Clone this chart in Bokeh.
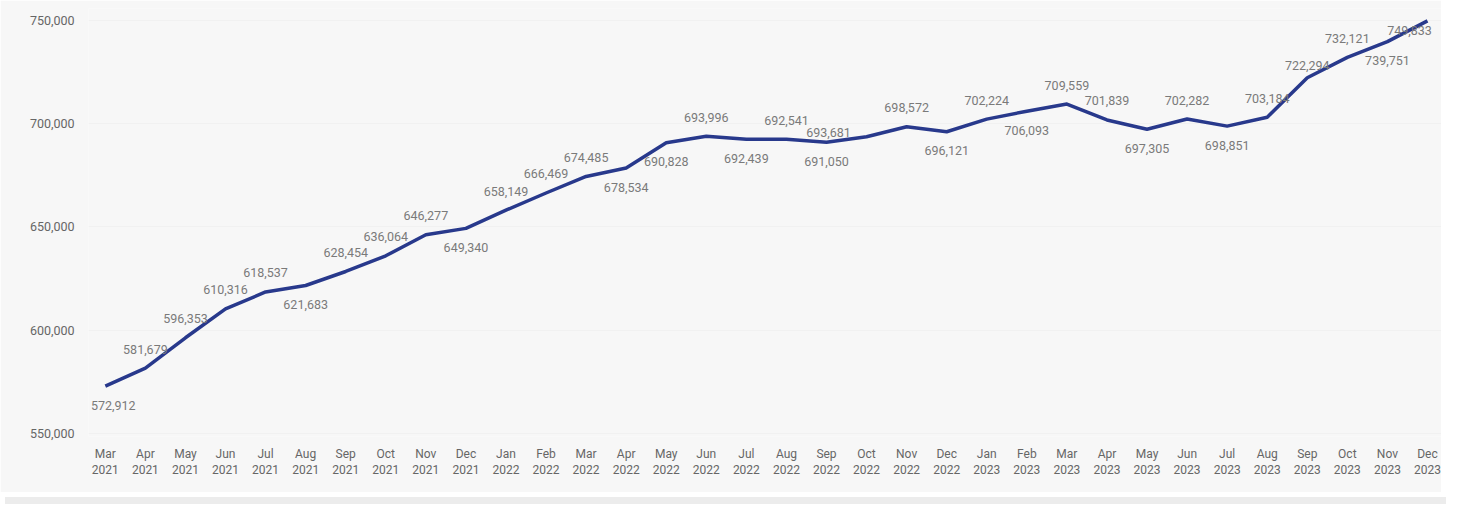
from bokeh.plotting import figure
from bokeh.models import ColumnDataSource, FixedTicker, NumeralTickFormatter, Range1d, Div
from bokeh.layouts import column
from bokeh.core.properties import value
from bokeh.embed import file_html
from bokeh.resources import INLINE

# ---- data ----
months = ["Mar", "Apr", "May", "Jun", "Jul", "Aug", "Sep", "Oct", "Nov", "Dec",
          "Jan", "Feb", "Mar", "Apr", "May", "Jun", "Jul", "Aug", "Sep", "Oct", "Nov", "Dec",
          "Jan", "Feb", "Mar", "Apr", "May", "Jun", "Jul", "Aug", "Sep", "Oct", "Nov", "Dec"]
years = ["2021"] * 10 + ["2022"] * 12 + ["2023"] * 12
values = [572912, 581679, 596353, 610316, 618537, 621683, 628454, 636064, 646277, 649340,
          658149, 666469, 674485, 678534, 690828, 693996, 692439, 692541, 691050, 693681,
          698572, 696121, 702224, 706093, 709559, 701839, 697305, 702282, 698851, 703184,
          722294, 732121, 739751, 749833]
y_ticks = [550000, 600000, 650000, 700000, 750000]

# label placement (style only): 1 = above, -1 = below
label_side = [-1, 1, 1, 1, 1, -1, 1, 1, 1, -1,
              1, 1, 1, -1, -1, 1, -1, 1, -1, 1,
              1, -1, 1, -1, 1, 1, -1, 1, -1, 1,
              1, 1, -1, -1]

idx = list(range(len(values)))
labels = [f"{v:,}" for v in values]
x_off = [0] * len(values)
y_off = [-19 * s for s in label_side]  # screen offsets (negative = up)
x_off[0] = 8
x_off[19] = -38
y_off[19] = -4
y_off[30] = -12
x_off[33] = -18
y_off[33] = 10

src = ColumnDataSource(dict(x=idx, y=values, lab=labels, xo=x_off, yo=y_off))

bg = "#f7f7f7"
p = figure(width=1441, height=492, output_backend="svg", toolbar_location=None,
           x_range=Range1d(-0.42, 33.35), y_range=Range1d(548547, 755811),
           min_border_left=88, min_border_right=0, min_border_top=8, min_border_bottom=56,
           background_fill_color=bg, border_fill_color=bg, outline_line_color=None)

p.line("x", "y", source=src, line_color="#28398c", line_width=3.5, line_join="round")
p.text("x", "y", text="lab", source=src, x_offset="xo", y_offset="yo",
       text_align="center", text_baseline="middle", text_color="#7a7a7a",
       text_font=value("Roboto"), text_font_size="12.5px")

p.xaxis.ticker = FixedTicker(ticks=idx)
p.xaxis.major_label_overrides = {i: f"{m}\n{y}" for i, (m, y) in enumerate(zip(months, years))}
p.yaxis.ticker = FixedTicker(ticks=y_ticks)
p.yaxis.formatter = NumeralTickFormatter(format="0,0")

for ax in (p.xaxis[0], p.yaxis[0]):
    ax.axis_line_color = None
    ax.major_tick_line_color = None
    ax.minor_tick_line_color = None
    ax.major_label_text_color = "#666666"
    ax.major_label_text_font = "Roboto"
p.yaxis.major_label_text_font_size = "12.5px"
p.xaxis.major_label_text_font_size = "12px"
p.xaxis.major_label_standoff = 4
p.yaxis.major_label_standoff = 8

p.xgrid.grid_line_color = None
p.ygrid.grid_line_color = "#f1f1f1"

strip = Div(width=1441, height=7, styles={"background-color": "#ececec"})

layout = column(p, strip, spacing=0)
open("out.html", "w").write(file_html(layout, INLINE))
